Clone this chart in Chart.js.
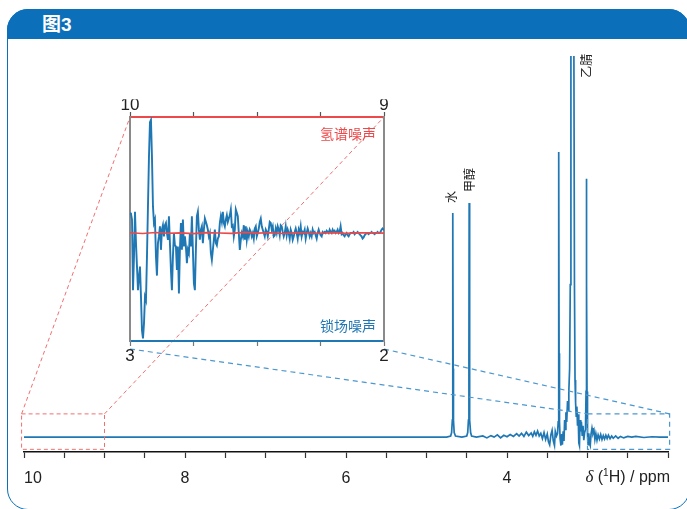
<!DOCTYPE html>
<html>
<head>
<meta charset="utf-8">
<script src="https://cdn.jsdelivr.net/npm/chart.js@4.4.1/dist/chart.umd.min.js"></script>
<style>
  html, body { margin: 0; padding: 0; background: #fff; }
  body { width: 687px; height: 509px; position: relative; overflow: hidden; font-family: "Liberation Sans", Arial, sans-serif; }
  .frame { position: absolute; left: 7px; top: 9px; width: 683px; height: 501px; box-sizing: border-box;
    border: 1.5px solid #0b70b9; border-radius: 21px; }
  .header { position: absolute; left: 7px; top: 9px; width: 683px; height: 30px; background: #0b70b9;
    border-radius: 21px 21px 0 0; color: #fff; font: bold 19px "Liberation Sans", "Noto Sans CJK SC", sans-serif;
    line-height: 31px; }
  .header span { position: absolute; left: 35px; }
  canvas { position: absolute; left: 0; top: 0; }
</style>
</head>
<body>
<div class="frame"></div>
<div class="header"><span>图3</span></div>
<canvas id="mainChart" width="687" height="509"></canvas>
<canvas id="insetChart" width="687" height="509"></canvas>
<script>
// main 1H spectrum: chemical shift (ppm) and intensity (acetonitrile peak runs off the top)
const mainPpm = [
  10.00, 9.00, 8.00, 7.00, 6.00, 5.00, 4.750,
  4.700, 4.688, 4.679, 4.675, 4.672, 4.669, 4.665, 4.656, 4.640, 4.560,
  4.500, 4.488, 4.479, 4.473, 4.470, 4.467, 4.461, 4.452, 4.440, 4.380,
  4.30, 4.25, 4.20, 4.16, 4.12, 4.08, 4.04, 4.00, 3.96, 3.92, 3.88, 3.85, 3.82, 3.79,
  3.76, 3.73, 3.70, 3.68, 3.66, 3.64, 3.62, 3.60, 3.58, 3.56, 3.54, 3.52, 3.50,
  3.485, 3.470, 3.455, 3.440, 3.425, 3.410, 3.400, 3.385, 3.372,
  3.364, 3.359, 3.356, 3.353, 3.348,
  3.340, 3.330, 3.320, 3.312, 3.302, 3.292, 3.284, 3.276, 3.268, 3.258, 3.248, 3.240, 3.232, 3.222,
  3.214, 3.206, 3.188, 3.170, 3.162,
  3.155, 3.148, 3.140, 3.132, 3.124, 3.116, 3.108, 3.100, 3.092, 3.084, 3.076, 3.066, 3.056, 3.046, 3.036,
  3.025, 3.018, 3.014, 3.012, 3.010, 3.006,
  3.000, 2.992, 2.984, 2.976, 2.966, 2.956, 2.944, 2.932, 2.920, 2.908, 2.896, 2.882, 2.868,
  2.852, 2.836, 2.820, 2.804, 2.788, 2.772, 2.756, 2.740, 2.720, 2.700, 2.680, 2.650, 2.620,
  2.590, 2.550, 2.500, 2.450, 2.400, 2.300, 2.200, 2.100, 2.000
];
const mainIntensity = [
  0, 0, 0, 0, 0, 0, 0,
  0.3, 1.2, 4.5, 18, 58.8, 18, 4.5, 1.2, 0.3, 0,
  0.3, 1.2, 4.5, 20, 61.4, 20, 4.5, 1.2, 0.3, 0,
  0.3, -0.2, 0.4, 0, 0.6, -0.2, 0.5, 0.1, 0.7, 0.2, 0.9, 0.3, 1.0, 0.2,
  1.3, 0.4, 1.1, 0.2, 1.4, 0.5, 1.6, 0.3, 1.0, -0.4, 1.2, -0.6, 0.8,
  -1.2, -2.0, 0.6, 1.8, -1.0, -2.2, 1.5, 0.3, 1.0,
  4, 22, 74.8, 22, 4,
  -0.5, -2.2, 0.8, -2.0, 1.5, -1.0, 4.5, 2.0, 6.5, 4.0, 9.5, 7.0, 12, 18,
  40, 110, 500, 110, 40,
  15, 9, 5.5, 8, 3, 6, -1.5, -2.2, 4.5, 1.5, 4.0, 0.5, 3.0, -0.8, 1.2,
  2, 12, 40, 67.8, 40, 12,
  0.5, -2.0, 1.0, -1.5, -2.2, 0.8, 2.4, 1.0, 1.8, -0.6, 0.9, -0.8, 0.6,
  -0.5, 0.7, -0.6, 0.4, -0.5, 0.5, -0.4, 0.5, -0.4, 0.3, -0.3, 0.3, -0.3,
  0.2, -0.2, 0.2, 0, 0.2, -0.1, 0.1, 0, 0
];

// peak labels
const peakNames = ['水', '甲醇', '乙腈'];
const peakLabelPpm = [4.69, 4.47, 3.01];
const peakLabelBase = [61.4, 64.3, 94.3];

// zoomed regions (ppm) and the height of the dashed boxes
const hZoomPpm = [10.03, 9.0];
const lockZoomPpm = [3.0, 1.98];
const zoomBoxIntensity = [-3.2, 6.1];

// inset: lock-field noise (3 -> 2 ppm) and 1H noise (10 -> 9 ppm)
const lockStartPpm = 3.0;
const lockStepPpm = 0.00393;
const lockNoise = [
  18, 17, 12, -51, -21, 19, -9, -30, -51, -39, -30, -57, -87, -94, -81, -57, -60, -21, 24, 68,
  99, 101, 68, 24, 9, 12, -21, -38, -9, -3, 6, -15, 3, 7, -3, 7, 9, 0, -6, 15,
  -9, -33, -51, -21, 0, -11, -12, -33, -12, -54, -15, 9, -15, 12, -12, -3, -12, -27, -15, -18,
  0, -12, 15, -15, -45, -51, -15, 15, 19, 3, -6, 3, 6, -9, 3, 13, 10, 7, 3, -3,
  0, -18, -24, -15, -6, 3, -9, -11, -5, -3, 9, 15, 10, 19, 9, 6, 12, 16, 10, 13,
  16, 21, 6, 7, -3, 3, 21, 18, 15, 0, -15, -6, 0, -3, 7, -6, 6, -6, 1, -3,
  3, 1, -3, 0, -5, 4, 6, -3, 0, 4, 10, 13, 6, 3, 0, -3, 3, 1, -3, 3,
  10, 9, 3, 6, -3, -2, 4, 0, 6, 3, -2, 7, 6, 1, -3, 0, 6, -2, 3, 0,
  -5, 3, 0, -6, -3, 1, 4, 0, -5, 3, 0, 6, -3, 1, 0, 3, -5, 0, 4, 1,
  -3, 0, -3, 3, 0, 1, -2, -5, 0, 3, 0, -2, -3, 1, 0, 1, 0, 2, 1, 0,
  3, 1, 0, 3, 1, 2, 0, 1, 3, 0, 1, 6, -1, 0, -2, -3, -1, 0, -2, -3,
  -1, 0, 0, 0, 1, -1, 0, 0, 1, 0, -1, -2, -3, -5, -4, -2, -1, 0, 0, -1,
  0, 0, 1, 0, 0, -1, 0, 0, 1, 0, 0, 1, 3, 4, 3, 3
];
const hStartPpm = 10.0;
const hStepPpm = 0.05;
const hNoise = [0.3, -0.4, 0.5, -0.2, 0.1, -0.5, 0.4, 0, -0.3, 0.6, -0.1, 0.2, -0.4, 0.3, 0, -0.2, 0.4, -0.3, 0.1, 0.2, -0.1];

const BLUE = '#1f77b4';
const RED = '#ec4a4a';
const SANS = '"Liberation Sans", Arial, sans-serif';
const CJK = '"Noto Sans CJK SC", sans-serif';

// move the layout padding so the plot area lands where it should on the page
const fitArea = (chart, target) => {
  const a = chart.chartArea;
  const p = Object.assign({}, chart.options.layout.padding);
  p.left += target.left - a.left;
  p.right += a.right - target.right;
  p.top += target.top - a.top;
  p.bottom += a.bottom - target.bottom;
  chart.options.layout.padding = p;
  chart.update();
};

// reversed axes list their ticks high->low; put them back low->high so
// align:'inner' keeps the end labels inside the axis
const ascendingTicks = (axis) => {
  axis.ticks = axis.ticks.slice().sort((a, b) => a.value - b.value);
};

// ---------- inset ----------
const insetLabels = {
  id: 'insetLabels',
  afterDraw(chart) {
    const { ctx, chartArea: a } = chart;
    ctx.save();
    ctx.font = '14px ' + CJK;
    ctx.textAlign = 'right';
    ctx.textBaseline = 'middle';
    ctx.fillStyle = RED;
    ctx.fillText('氢谱噪声', a.right - 8, a.top + 17);
    ctx.fillStyle = BLUE;
    ctx.fillText('锁场噪声', a.right - 8, a.bottom - 15);
    ctx.restore();
  }
};

const edgeLabel = (ends) => (v) => (ends.includes(v) ? String(v) : '');

const inset = new Chart(document.getElementById('insetChart'), {
  type: 'line',
  data: {
    datasets: [
      {
        label: 'hNoise',
        data: hNoise.map((v, i) => ({ x: hStartPpm - i * hStepPpm, y: v })),
        xAxisID: 'xt',
        borderColor: RED,
        borderWidth: 1.6,
        pointRadius: 0
      },
      {
        label: 'lockNoise',
        data: lockNoise.map((v, i) => ({ x: lockStartPpm - i * lockStepPpm, y: v })),
        xAxisID: 'xb',
        borderColor: BLUE,
        borderWidth: 1.9,
        pointRadius: 0
      }
    ]
  },
  options: {
    responsive: false,
    animation: false,
    events: [],
    layout: { padding: { left: 130, right: 303, top: 90, bottom: 140 } },
    plugins: { legend: { display: false }, tooltip: { enabled: false } },
    scales: {
      xb: {
        type: 'linear', position: 'bottom', min: 2, max: 3, reverse: true,
        border: { color: BLUE, width: 2 },
        grid: { drawOnChartArea: false, tickLength: 5, tickColor: '#777', tickWidth: 1.2 },
        ticks: { stepSize: 0.25, autoSkip: false, maxRotation: 0, padding: 0,
          color: '#222', font: { family: SANS, size: 17 }, callback: edgeLabel([2, 3]) }
      },
      xt: {
        type: 'linear', position: 'top', min: 9, max: 10, reverse: true,
        border: { color: RED, width: 2 },
        grid: { drawOnChartArea: false, tickLength: 5, tickColor: '#555', tickWidth: 1.2 },
        ticks: { stepSize: 0.25, autoSkip: false, maxRotation: 0, padding: 0,
          color: '#222', font: { family: SANS, size: 17, lineHeight: 0.75 }, callback: edgeLabel([9, 10]) }
      },
      y: {
        position: 'left', min: -96.4, max: 103.6,
        border: { color: '#8a8a8a', width: 2 },
        grid: { drawOnChartArea: false, drawTicks: false },
        ticks: { display: false }
      },
      yR: {
        position: 'right', min: -96.4, max: 103.6,
        border: { color: '#8a8a8a', width: 2 },
        grid: { drawOnChartArea: false, drawTicks: false },
        ticks: { display: false }
      }
    }
  },
  plugins: [insetLabels]
});
fitArea(inset, { left: 130, right: 384, top: 117, bottom: 341 });

// ---------- main spectrum ----------
const decor = {
  id: 'decor',
  afterDraw(chart) {
    const { ctx, chartArea: a } = chart;
    const xs = chart.scales.x;
    const ys = chart.scales.y;
    const ia = inset.chartArea;
    const boxTop = ys.getPixelForValue(zoomBoxIntensity[1]);
    const boxBottom = ys.getPixelForValue(zoomBoxIntensity[0]);
    const hL = xs.getPixelForValue(hZoomPpm[0]);
    const hR = xs.getPixelForValue(hZoomPpm[1]);
    const lL = xs.getPixelForValue(lockZoomPpm[0]);
    const lR = xs.getPixelForValue(lockZoomPpm[1]);

    ctx.save();
    ctx.lineWidth = 1;
    // 1H noise box and connectors
    ctx.strokeStyle = '#f07070';
    ctx.setLineDash([4, 3]);
    ctx.strokeRect(hL, boxTop, hR - hL, boxBottom - boxTop);
    ctx.beginPath();
    ctx.moveTo(hL, boxTop); ctx.lineTo(ia.left, ia.top);
    ctx.moveTo(hR, boxTop); ctx.lineTo(ia.right, ia.top);
    ctx.stroke();
    // lock noise box and connectors
    ctx.strokeStyle = '#4b97cf';
    ctx.lineWidth = 1.2;
    ctx.setLineDash([5, 4]);
    ctx.strokeRect(lL, boxTop, lR - lL, boxBottom - boxTop);
    ctx.beginPath();
    ctx.moveTo(ia.left, ia.bottom + 8); ctx.lineTo(lL, boxTop);
    ctx.moveTo(ia.right, ia.bottom + 8); ctx.lineTo(lR, boxTop);
    ctx.stroke();
    ctx.setLineDash([]);

    // peak labels, rotated
    ctx.fillStyle = '#222';
    ctx.font = '12px ' + CJK;
    ctx.textAlign = 'left';
    ctx.textBaseline = 'middle';
    peakNames.forEach((name, i) => {
      ctx.save();
      ctx.translate(xs.getPixelForValue(peakLabelPpm[i]), ys.getPixelForValue(peakLabelBase[i]));
      ctx.rotate(-Math.PI / 2);
      ctx.fillText(name, 0, 0);
      ctx.restore();
    });

    // axis title: δ (1H) / ppm, right aligned at the end of the axis
    const y = a.bottom + 26;
    const parts = [
      { t: 'δ', f: 'italic 17px "Liberation Serif", serif', dy: 0 },
      { t: ' (', f: '16px ' + SANS, dy: 0 },
      { t: '1', f: '10px ' + SANS, dy: -5 },
      { t: 'H) / ppm', f: '16px ' + SANS, dy: 0 }
    ];
    let w = 0;
    parts.forEach((p) => { ctx.font = p.f; p.w = ctx.measureText(p.t).width; w += p.w; });
    let x = a.right + 2 - w;
    ctx.fillStyle = '#222';
    ctx.textBaseline = 'middle';
    parts.forEach((p) => { ctx.font = p.f; ctx.fillText(p.t, x, y + p.dy); x += p.w; });
    ctx.restore();
  }
};

const main = new Chart(document.getElementById('mainChart'), {
  type: 'line',
  data: {
    datasets: [{
      label: 'spectrum',
      data: mainPpm.map((p, i) => ({ x: p, y: mainIntensity[i] })),
      borderColor: BLUE,
      borderWidth: 1.7,
      pointRadius: 0,
      tension: 0
    }]
  },
  options: {
    responsive: false,
    animation: false,
    events: [],
    layout: { padding: { left: 24, right: 19, top: 56, bottom: 20 } },
    plugins: { legend: { display: false }, tooltip: { enabled: false } },
    scales: {
      x: {
        type: 'linear', min: 2, max: 10, reverse: true,
        afterBuildTicks: ascendingTicks,
        border: { color: '#111', width: 1.6 },
        grid: { drawOnChartArea: false, tickLength: 6, tickColor: '#333', tickWidth: 1.2 },
        ticks: { stepSize: 0.5, autoSkip: false, maxRotation: 0, padding: 11, align: 'inner',
          color: '#222', font: { family: SANS, size: 16 },
          callback: (v) => (v % 2 === 0 && v !== 2 ? String(v) : '') }
      },
      y: { display: false, min: -3.9, max: 100 }
    }
  },
  plugins: [decor]
});
fitArea(main, { left: 24, right: 668, top: 56, bottom: 452 });
</script>
</body>
</html>
